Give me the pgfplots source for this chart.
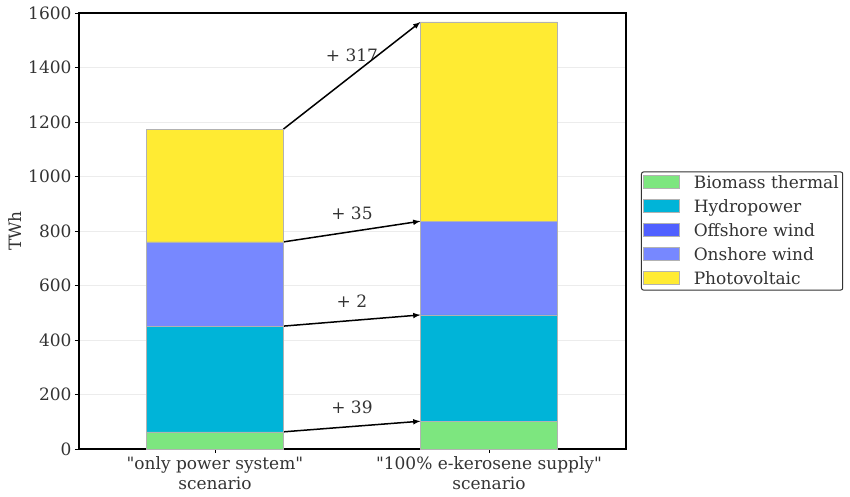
\documentclass[border=0pt]{standalone}
\usepackage{fontspec}
\setmainfont[Ligatures=TeXOff]{DejaVu Serif}
\usepackage{pgfplots}
\pgfplotsset{compat=1.18}
\definecolor{cbio}{HTML}{7DE67F}
\definecolor{chyd}{HTML}{00B4D8}
\definecolor{coff}{HTML}{5060FF}
\definecolor{conw}{HTML}{7788FF}
\definecolor{cpv}{HTML}{FFEB33}
\definecolor{txt}{HTML}{333333}
\newcommand{\fs}{\fontsize{17}{20}\selectfont}
\begin{document}
\begin{tikzpicture}[font=\fs]
\begin{axis}[
  scale only axis,
  width=547pt, height=436pt,
  ybar stacked,
  bar width=0.5,
  xmin=-0.496, xmax=1.5,
  ymin=0, ymax=1600,
  xtick={0,1},
  xticklabels={{"only power system"\\scenario},{"100\% e-kerosene supply"\\scenario}},
  xticklabel style={align=center, text=txt, font=\fs},
  ytick={0,200,...,1600},
  yticklabel style={text=txt, font=\fs},
  /pgf/number format/assume math mode=true,
  /pgf/number format/set thousands separator={},
  ylabel={TWh},
  ylabel style={text=txt, font=\fs, at={(axis description cs:-0.117,0.5)}, anchor=center},
  axis line style={black, line width=1.2pt},
  tick align=outside,
  major tick length=4pt,
  tick style={black, line width=0.6pt},
  xtick pos=bottom, ytick pos=left,
  ymajorgrids,
  grid style={gray!15, line width=0.5pt},
  legend style={at={(1.0274,0.5)}, anchor=west, draw=black!80, line width=1pt,
    rounded corners=2pt, font=\fs, text=txt,
    row sep=5.5pt, column sep=12pt, inner sep=2pt},
  legend cell align=left,
  area legend,
  legend image code/.code={\draw[#1, draw=black!30, sharp corners, line width=0.3pt] (0pt,-5pt) rectangle (36pt,8pt);},
  every axis plot/.append style={draw=black!30, line width=0.3pt},
]
\addplot[fill=cbio] coordinates {(0,63) (1,102)};
\addplot[fill=chyd] coordinates {(0,388) (1,390)};
\addplot[fill=coff] coordinates {(0,0) (1,0)};
\addplot[fill=conw] coordinates {(0,309) (1,344)};
\addplot[fill=cpv] coordinates {(0,414) (1,731)};
\legend{Biomass thermal,Hydropower,Offshore wind,Onshore wind,Photovoltaic}
\draw[-latex, line width=1.5pt] (axis cs:0.25,63) -- (axis cs:0.75,102);
\draw[-latex, line width=1.5pt] (axis cs:0.25,451) -- (axis cs:0.75,492);
\draw[-latex, line width=1.5pt] (axis cs:0.25,760) -- (axis cs:0.75,836);
\draw[-latex, line width=1.5pt] (axis cs:0.25,1174) -- (axis cs:0.75,1567);
\node[text=txt] at (axis cs:0.5,152) {+ 39};
\node[text=txt] at (axis cs:0.5,542) {+ 2};
\node[text=txt] at (axis cs:0.5,866) {+ 35};
\node[text=txt] at (axis cs:0.5,1443) {+ 317};
\end{axis}
\path (current axis.south west) ++(-79pt,-47pt) rectangle ++(850pt,496pt);
\end{tikzpicture}
\end{document}
